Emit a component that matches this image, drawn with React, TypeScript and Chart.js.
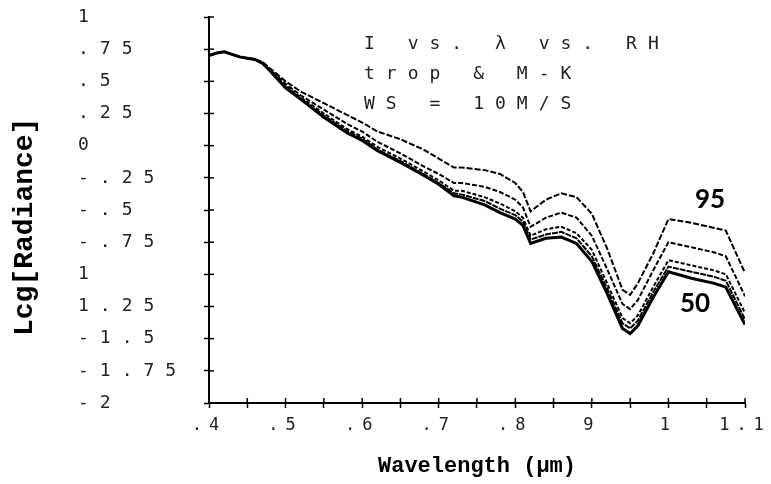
import React, { useEffect, useRef } from "react";
import { Chart, registerables } from "chart.js";

Chart.register(...registerables);

// ---- data ----
const wavelengths = [0.40, 0.41, 0.42, 0.43, 0.44, 0.45, 0.46, 0.47, 0.48, 0.50, 0.52, 0.55, 0.58, 0.60, 0.62, 0.65, 0.68, 0.70, 0.72, 0.73, 0.76, 0.78, 0.80, 0.81, 0.82, 0.84, 0.86, 0.88, 0.90, 0.92, 0.94, 0.95, 0.96, 0.98, 1.00, 1.03, 1.06, 1.075, 1.10];

const rh95 = [0.70, 0.72, 0.73, 0.71, 0.69, 0.68, 0.67, 0.65, 0.60, 0.50, 0.42, 0.33, 0.24, 0.18, 0.11, 0.05, -0.03, -0.10, -0.17, -0.17, -0.19, -0.22, -0.29, -0.36, -0.51, -0.42, -0.37, -0.40, -0.53, -0.80, -1.12, -1.16, -1.07, -0.84, -0.57, -0.60, -0.64, -0.66, -0.99];
const rh90 = [0.70, 0.72, 0.73, 0.71, 0.69, 0.68, 0.67, 0.645, 0.59, 0.48, 0.39, 0.28, 0.17, 0.11, 0.03, -0.06, -0.16, -0.22, -0.29, -0.29, -0.32, -0.36, -0.42, -0.48, -0.63, -0.56, -0.52, -0.56, -0.70, -0.96, -1.23, -1.27, -1.20, -0.97, -0.75, -0.79, -0.83, -0.86, -1.17];
const rh80 = [0.70, 0.72, 0.73, 0.71, 0.69, 0.68, 0.67, 0.64, 0.585, 0.465, 0.375, 0.25, 0.13, 0.07, -0.01, -0.10, -0.20, -0.27, -0.35, -0.35, -0.40, -0.45, -0.51, -0.56, -0.70, -0.65, -0.63, -0.68, -0.81, -1.07, -1.34, -1.38, -1.32, -1.10, -0.89, -0.93, -0.97, -1.00, -1.30];
const rh70 = [0.70, 0.72, 0.73, 0.71, 0.69, 0.68, 0.67, 0.64, 0.58, 0.455, 0.365, 0.235, 0.115, 0.055, -0.03, -0.12, -0.22, -0.29, -0.37, -0.38, -0.43, -0.49, -0.54, -0.59, -0.73, -0.69, -0.67, -0.72, -0.86, -1.11, -1.38, -1.42, -1.36, -1.14, -0.94, -0.98, -1.02, -1.05, -1.35];
const rh50 = [0.70, 0.72, 0.73, 0.71, 0.69, 0.68, 0.67, 0.64, 0.58, 0.45, 0.36, 0.22, 0.10, 0.04, -0.04, -0.13, -0.23, -0.30, -0.39, -0.40, -0.46, -0.52, -0.57, -0.62, -0.76, -0.72, -0.71, -0.76, -0.90, -1.15, -1.42, -1.46, -1.40, -1.18, -0.98, -1.03, -1.07, -1.10, -1.39];

const seriesNames = ["RH 95", "RH 90", "RH 80", "RH 70", "RH 50"];

const xTickLabels = [".4", ".5", ".6", ".7", ".8", "9", "1", "1.1"];
const yTickLabels = ["1", ".75", ".5", ".25", "0", "-.25", "-.5", "-.75", "1", "1.25", "-1.5", "-1.75", "-2"];

const xTitle = "Wavelength (µm)";
const yTitle = "Lcg[Radiance]";
const noteLines = ["I vs. λ vs. RH", "trop & M-K", "WS = 10M/S"];
const highLabel = "95";
const lowLabel = "50";

// ---- plugins ----
const letterSpacingPlugin = {
  id: "letterSpacing",
  beforeDraw(chart: any) {
    const specs: Record<string, string> = { x: "7px", y: "11px" };
    for (const id of Object.keys(specs)) {
      const s = chart.scales[id];
      if (!s || s.__spaced) continue;
      s.__spaced = true;
      const orig = s.drawLabels;
      s.drawLabels = function (area: any) {
        const ctx = this.ctx;
        ctx.save();
        ctx.letterSpacing = specs[id];
        orig.call(this, area);
        ctx.restore();
      };
    }
  },
};

const innerTicksPlugin = {
  id: "innerTicks",
  afterDraw(chart: any) {
    const { ctx, chartArea, scales } = chart;
    const xs = scales.x;
    const ys = scales.y;
    ctx.save();
    ctx.strokeStyle = "#000";
    ctx.lineWidth = 1.5;
    xs.ticks.forEach((_: any, i: number) => {
      const px = xs.getPixelForTick(i);
      ctx.beginPath();
      ctx.moveTo(px, chartArea.bottom);
      ctx.lineTo(px, chartArea.bottom - 5);
      ctx.stroke();
    });
    ys.ticks.forEach((_: any, i: number) => {
      const py = ys.getPixelForTick(i);
      ctx.beginPath();
      ctx.moveTo(chartArea.left, py);
      ctx.lineTo(chartArea.left + 5, py);
      ctx.stroke();
    });
    ctx.restore();
  },
};

export default function App() {
  const canvasRef = useRef<HTMLCanvasElement | null>(null);

  useEffect(() => {
    const canvas = canvasRef.current;
    if (!canvas) return;
    const toPts = (arr: number[]) => wavelengths.map((w, i) => ({ x: w, y: arr[i] }));
    const series = [rh95, rh90, rh80, rh70, rh50];
    const dashes = [[6, 2], [5, 2], [4, 2], [6, 1], []];
    const widths = [2, 2, 2, 2, 3];
    const chart = new Chart(canvas, {
      type: "line",
      data: {
        datasets: series.map((arr, k) => ({
          label: seriesNames[k],
          data: toPts(arr),
          borderColor: "#000",
          backgroundColor: "#000",
          borderWidth: widths[k],
          borderDash: dashes[k],
          pointRadius: 0,
          tension: 0,
          fill: false,
        })),
      },
      options: {
        responsive: false,
        animation: false,
        parsing: true,
        layout: { padding: { left: 78, right: 26, top: 17, bottom: 0 } },
        plugins: { legend: { display: false }, tooltip: { enabled: false } },
        scales: {
          x: {
            type: "linear",
            min: 0.4,
            max: 1.1,
            afterFit: (s: any) => { s.height = 81; },
            border: { display: true, color: "#000", width: 2 },
            grid: { drawOnChartArea: false, drawTicks: true, tickLength: 5, tickColor: "#000", tickWidth: 1.5 },
            ticks: {
              stepSize: 0.05,
              autoSkip: false,
              maxRotation: 0,
              padding: 7,
              color: "#222",
              font: { family: "DejaVu Sans Mono", size: 17 },
              callback: (_v: any, i: number) => (i % 2 === 0 ? xTickLabels[i / 2] ?? "" : ""),
            },
            title: {
              display: true,
              text: xTitle,
              color: "#000",
              font: { family: "Liberation Mono", size: 22, weight: "bold" },
              padding: { top: 0, bottom: 4 },
            },
          },
          y: {
            type: "linear",
            min: -2,
            max: 1,
            afterFit: (s: any) => { s.width = 131; },
            border: { display: true, color: "#000", width: 2 },
            grid: { drawOnChartArea: false, drawTicks: true, tickLength: 5, tickColor: "#000", tickWidth: 1.5 },
            ticks: {
              stepSize: 0.25,
              autoSkip: false,
              crossAlign: "far",
              color: "#222",
              font: { family: "DejaVu Sans Mono", size: 18 },
              callback: (_v: any, i: number) => yTickLabels[12 - i] ?? "",
            },
            title: {
              display: true,
              text: yTitle + "  ",
              color: "#000",
              font: { family: "Liberation Mono", size: 28, weight: "bold" },
              padding: { top: -70, bottom: 0 },
            },
          },
        },
      },
      plugins: [letterSpacingPlugin, innerTicksPlugin],
    } as any);
    return () => chart.destroy();
  }, []);

  return (
    <div style={{ position: "fixed", left: 0, top: 0, width: 771, height: 484, background: "#fff" }}>
      <canvas ref={canvasRef} width={771} height={484} style={{ display: "block" }} />
      <div
        style={{
          position: "absolute",
          left: 364,
          top: 28,
          fontFamily: "DejaVu Sans Mono",
          fontSize: 18,
          letterSpacing: "11px",
          lineHeight: "30px",
          whiteSpace: "pre",
          color: "#222",
        }}
      >
        {noteLines.map((t) => (
          <div key={t}>{t}</div>
        ))}
      </div>
      <div
        style={{
          position: "absolute",
          left: 710,
          top: 198,
          transform: "translate(-50%, -50%)",
          fontFamily: "Lato",
          fontWeight: 700,
          fontSize: 26,
          lineHeight: 1,
          color: "#000",
        }}
      >
        {highLabel}
      </div>
      <div
        style={{
          position: "absolute",
          left: 695,
          top: 302,
          transform: "translate(-50%, -50%)",
          fontFamily: "Lato",
          fontWeight: 700,
          fontSize: 26,
          lineHeight: 1,
          color: "#000",
        }}
      >
        {lowLabel}
      </div>
    </div>
  );
}
